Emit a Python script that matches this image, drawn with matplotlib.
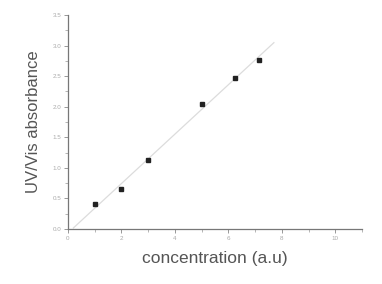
import numpy as np
import matplotlib
matplotlib.use("Agg")
import matplotlib.pyplot as plt
from matplotlib.ticker import MultipleLocator

conc = [1.0, 2.0, 3.0, 5.0, 6.24, 7.13]
absorb = [0.40, 0.65, 1.12, 2.05, 2.47, 2.77]
fit_x = [0.2, 7.7]
x_ticks = [0, 2, 4, 6, 8, 10]
y_ticks = [0.0, 0.5, 1.0, 1.5, 2.0, 2.5, 3.0, 3.5]

plt.rcParams['font.family'] = ['Liberation Sans', 'DejaVu Sans']
fig = plt.figure(figsize=(3.82, 2.84), dpi=100)
ax = fig.add_axes([0.178, 0.194, 0.770, 0.753])

slope, icpt = np.polyfit(conc, absorb, 1)
fx = np.array(fit_x)
ax.plot(fx, slope * fx + icpt, color='#dcdcdc', lw=0.9, zorder=1)
ax.plot(conc, absorb, 's', color='#222222', ms=2.4, zorder=2)

ax.set_xlim(0, 11)
ax.set_ylim(0, 3.5)
ax.set_xticks(x_ticks)
ax.set_yticks(y_ticks)
ax.set_xticklabels([str(t) for t in x_ticks])
ax.set_yticklabels([f"{t:.1f}" for t in y_ticks])
ax.xaxis.set_minor_locator(MultipleLocator(1))
ax.yaxis.set_minor_locator(MultipleLocator(0.25))
for s in ['top', 'right']:
    ax.spines[s].set_visible(False)
for s in ['left', 'bottom']:
    ax.spines[s].set_color('#777777')
    ax.spines[s].set_linewidth(0.9)
ax.tick_params(which='major', direction='out', length=3, width=0.6, color='#888888',
               labelsize=4.5, labelcolor='#aaaaaa', pad=2)
ax.tick_params(which='minor', direction='out', length=2, width=0.5, color='#999999')

ax.set_xlabel('concentration (a.u)', fontsize=12.5, color='#555555', labelpad=7)
ax.set_ylabel('UV/Vis absorbance', fontsize=12, color='#555555', labelpad=8)

fig.savefig('out.png', dpi=100)
